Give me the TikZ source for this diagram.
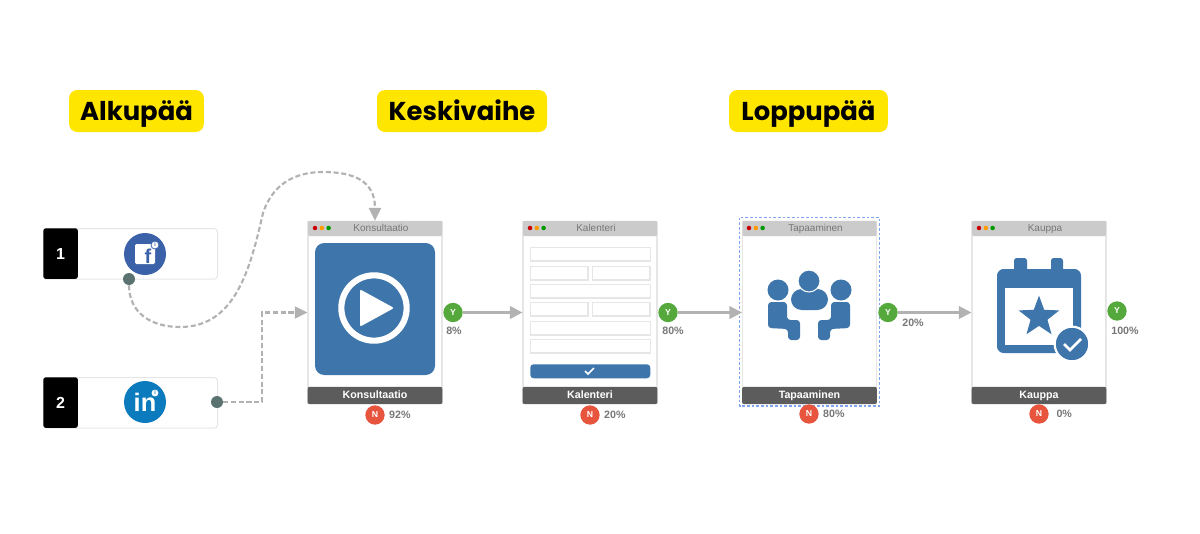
\documentclass[tikz,border=0pt]{standalone}
\usepackage{fontspec}
\setmainfont{Liberation Sans}
\newfontfamily\tagfont{Poppins}
\usetikzlibrary{positioning,arrows.meta,shapes.geometric}
\definecolor{tagyellow}{HTML}{FFE600}
\definecolor{iconblue}{HTML}{3E76AB}
\definecolor{fbblue}{HTML}{3B62A8}
\definecolor{liblue}{HTML}{0B7BBD}
\definecolor{linegray}{HTML}{B2B2B2}
\definecolor{barlight}{HTML}{CBCBCB}
\definecolor{bardark}{HTML}{5C5C5C}
\definecolor{edgegray}{HTML}{E6E6E6}
\definecolor{textgray}{HTML}{777777}
\definecolor{yesgreen}{HTML}{55A93C}
\definecolor{nored}{HTML}{E8553F}
\definecolor{dotgreen}{HTML}{5A7370}
\definecolor{selectblue}{HTML}{7FA5F0}
\begin{document}
\begin{tikzpicture}[
    x=.75pt, y=-.75pt,
    phase/.style = {fill=tagyellow, rounded corners=6pt, minimum height=31.5pt,
      inner xsep=0pt, inner ysep=0pt, text height=15.5pt, text depth=2pt,
      font=\tagfont\fontsize{19.4}{21}\selectfont\bfseries},
    source/.style = {draw=edgegray, line width=.8pt, rounded corners=2.5pt, anchor=north west,
      minimum width=130.5pt, minimum height=38pt},
    sourcenum/.style = {fill=black, text=white, rounded corners=2pt, anchor=north west,
      minimum width=26pt, minimum height=38pt, inner sep=0pt, font=\fontsize{12}{14}\selectfont\bfseries},
    badge/.style = {circle, minimum size=31.5pt, inner sep=0pt},
    mini/.style = {circle, fill=white, minimum size=6pt, inner sep=0pt,
      font=\fontsize{4}{4}\selectfont\bfseries},
    outdot/.style = {circle, fill=dotgreen, minimum size=9pt, inner sep=0pt},
    card/.style = {draw=edgegray, line width=.8pt, fill=white, minimum width=100.5pt,
      minimum height=137pt, inner sep=0pt},
    cardtop/.style = {fill=barlight, rounded corners=1pt, anchor=north, minimum width=100.5pt,
      minimum height=11.5pt, inner sep=0pt, text=textgray, text height=5.5pt, text depth=1.5pt,
      execute at begin node=\hspace*{9pt}, font=\fontsize{7.5}{8}\selectfont},
    cardbottom/.style = {fill=bardark, rounded corners=1.5pt, anchor=south, minimum width=101pt,
      minimum height=13pt, inner sep=0pt, text=white, text height=6pt, text depth=1.7pt,
      font=\fontsize{8}{9}\selectfont\bfseries},
    wdot/.style = {circle, minimum size=3.4pt, inner sep=0pt},
    yes/.style = {circle, fill=yesgreen, text=white, minimum size=14.5pt, inner sep=0pt,
      font=\fontsize{6.5}{7}\selectfont\bfseries},
    no/.style = {circle, fill=nored, text=white, minimum size=14.5pt, inner sep=0pt,
      font=\fontsize{6.5}{7}\selectfont\bfseries},
    pct/.style = {inner sep=0pt, text=textgray, font=\fontsize{8}{9}\selectfont\bfseries},
    field/.style = {draw=edgegray, line width=1.1pt, fill=white, anchor=north west, inner sep=0pt,
      minimum height=10pt},
    flow/.style = {draw=linegray, line width=1.6pt, -{Triangle[length=9.5pt,width=9.5pt]}},
    dashflow/.style = {draw=linegray, line width=1.6pt, dash pattern=on 3.8pt off 2pt,
      -{Triangle[length=9.5pt,width=9.5pt,line width=0pt,fill=linegray]}}
  ]
  \useasboundingbox (0,0) rectangle (1200,533);
  % phases
  \node [phase, minimum width=101pt] (alku) at (136.5,111) {Alkupää};
  \node [phase, minimum width=127.5pt] (keski) at (462,111) {Keskivaihe};
  \node [phase, minimum width=119pt] (loppu) at (808.5,111) {Loppupää};
  % sources
  \node [source] (fbbox) at (43,228) {};
  \node [sourcenum] (fbnum) at (43,228) {1};
  \node [source] (libox) at (43,377) {};
  \node [sourcenum] (linum) at (43,377) {2};
  \node [badge, fill=fbblue] (fb) at (145,254) {};
  \fill [white, rounded corners=1pt] (135,244) rectangle (155,264);
  \node [inner sep=0pt, text=fbblue, font=\fontsize{15}{15}\selectfont\bfseries] (fbf) at (148,256) {f};
  \node [mini, draw=fbblue, line width=.6pt, text=fbblue] (fbi) at (155,245) {i};
  \node [badge, fill=liblue, text=white, font=\fontsize{19}{19}\selectfont\bfseries] (li) at (145,402) {in};
  \node [mini, draw=liblue, line width=.6pt, text=liblue] (lii) at (155,393) {i};
  \node [outdot] (fbout) at (129,279) {};
  \node [outdot] (liout) at (217,402) {};
  % Konsultaatio
  \node [card] (konsultaatio) at (375,312.5) {};
  \node [cardtop] (konsultaatiotop) at (konsultaatio.north) {Konsultaatio};
  \node [cardbottom] (konsultaatiobottom) at (konsultaatio.south) {Konsultaatio};
  \node [wdot, fill=red!80!black] (kona) at (315,228) {};
  \node [wdot, fill=orange!80!yellow, right=1.3pt of kona] (konb) {};
  \node [wdot, fill=green!60!black, right=1.3pt of konb] (konc) {};
  \fill [iconblue, rounded corners=7pt] (315,243) rectangle (435,375);
  \node [circle, draw=white, line width=4.6pt, minimum size=49pt, inner sep=0pt] (playring) at (374,308) {};
  \fill [white, draw=white, line width=1.5pt, line join=round] (361,291) -- (392,308) -- (361,325) -- cycle;
  % Kalenteri
  \node [card] (kalenteri) at (590,312.5) {};
  \node [cardtop] (kalenteritop) at (kalenteri.north) {Kalenteri};
  \node [cardbottom] (kalenteribottom) at (kalenteri.south) {Kalenteri};
  \node [wdot, fill=red!80!black] (kala) at (530,228) {};
  \node [wdot, fill=orange!80!yellow, right=1.3pt of kala] (kalb) {};
  \node [wdot, fill=green!60!black, right=1.3pt of kalb] (kalc) {};
  \node [field, minimum width=90pt] (row1) at (530,247) {};
  \node [field, minimum width=43pt] (row2a) at (530,266) {};
  \node [field, minimum width=43pt] (row2b) at (592,266) {};
  \node [field, minimum width=90pt] (row3) at (530,284) {};
  \node [field, minimum width=43pt] (row4a) at (530,302) {};
  \node [field, minimum width=43pt] (row4b) at (592,302) {};
  \node [field, minimum width=90pt] (row5) at (530,321) {};
  \node [field, minimum width=90pt] (row6) at (530,339) {};
  \node [fill=iconblue, rounded corners=2.5pt, anchor=north west, minimum width=90pt,
    minimum height=10.5pt, inner sep=0pt] (submit) at (530,364) {};
  \draw [white, line width=1.1pt] (585,371) -- (588,374) -- (594,368);
  % Tapaaminen
  \node [card] (tapaaminen) at (809.5,312.5) {};
  \node [cardtop] (tapaaminentop) at (tapaaminen.north) {Tapaaminen};
  \node [cardbottom] (tapaaminenbottom) at (tapaaminen.south) {Tapaaminen};
  \node [wdot, fill=red!80!black] (tapa) at (749,228) {};
  \node [wdot, fill=orange!80!yellow, right=1.3pt of tapa] (tapb) {};
  \node [wdot, fill=green!60!black, right=1.3pt of tapb] (tapc) {};
  \draw [selectblue, line width=.9pt, dash pattern=on 2pt off 1.5pt] (739.5,217.5) rectangle (879.5,406);
  \fill [iconblue, rounded corners=8pt] (791,310) -- (791,289) -- (828,289) -- (828,310) -- cycle;
  \fill [iconblue, draw=white, line width=.8pt] (809,281) circle (11);
  \fill [iconblue] (778,290) circle (10.5);
  \fill [iconblue] (841,290) circle (10.5);
  \fill [iconblue, rounded corners=2.5pt] (768,328) -- (768,302) -- (787,302) -- (787,320) -- (800,320) -- (800,340) -- (788,340) -- (788,329) -- cycle;
  \fill [iconblue, rounded corners=2.5pt] (850,328) -- (850,302) -- (831,302) -- (831,320) -- (818,320) -- (818,340) -- (830,340) -- (830,329) -- cycle;
  % Kauppa
  \node [card] (kauppa) at (1039,312.5) {};
  \node [cardtop] (kauppatop) at (kauppa.north) {Kauppa};
  \node [cardbottom] (kauppabottom) at (kauppa.south) {Kauppa};
  \node [wdot, fill=red!80!black] (kaua) at (979,228) {};
  \node [wdot, fill=orange!80!yellow, right=1.3pt of kaua] (kaub) {};
  \node [wdot, fill=green!60!black, right=1.3pt of kaub] (kauc) {};
  \fill [iconblue, rounded corners=2pt] (1014,258) rectangle (1027,275);
  \fill [iconblue, rounded corners=2pt] (1051,258) rectangle (1063,275);
  \fill [iconblue, rounded corners=5pt] (997,269) rectangle (1081,353);
  \fill [white] (1005,288) rectangle (1073,345);
  \node [star, star points=5, star point ratio=2.4, fill=iconblue, minimum size=32pt, inner sep=0pt] (kauppastar) at (1039,317) {};
  \node [circle, fill=iconblue, draw=white, line width=1.6pt, minimum size=26pt, inner sep=0pt] (kauppacheck) at (1072,344) {};
  \draw [white, line width=1.9pt] (1064,344) -- (1070,350) -- (1081,339);
  % yes and no
  \node [yes] (y1) at (453,312.5) {Y};
  \node [yes] (y2) at (668,312.5) {Y};
  \node [yes] (y3) at (888,312.5) {Y};
  \node [yes] (y4) at (1117,311) {Y};
  \node [no] (n1) at (375,415) {N};
  \node [no] (n2) at (590,415) {N};
  \node [no] (n3) at (809,414) {N};
  \node [no] (n4) at (1039,414) {N};
  \node [pct] (p1) at (454,331) {8\%};
  \node [pct] (p2) at (673,331) {80\%};
  \node [pct] (p3) at (913,323) {20\%};
  \node [pct] (p4) at (1125,331) {100\%};
  \node [pct, right=3pt of n1] (q1) {92\%};
  \node [pct, right=3pt of n2] (q2) {20\%};
  \node [pct, right=3pt of n3] (q3) {80\%};
  \node [pct, right=5.5pt of n4] (q4) {0\%};
  % connectors
  \draw [flow] (y1) -- (kalenteri);
  \draw [flow] (y2) -- (tapaaminen);
  \draw [flow] (y3) -- (kauppa);
  \draw [dashflow] (fbout) .. controls (129,312) and (150,327) .. (180,327)
    .. controls (235,327) and (250,270) .. (263,213)
    .. controls (274,180) and (300,172) .. (323,172)
    .. controls (352,172) and (375,180) .. (konsultaatio.north);
  \draw [dashflow] (liout) -- (262,402) -- (262,312.5) -- (konsultaatio.west);
\end{tikzpicture}
\end{document}
